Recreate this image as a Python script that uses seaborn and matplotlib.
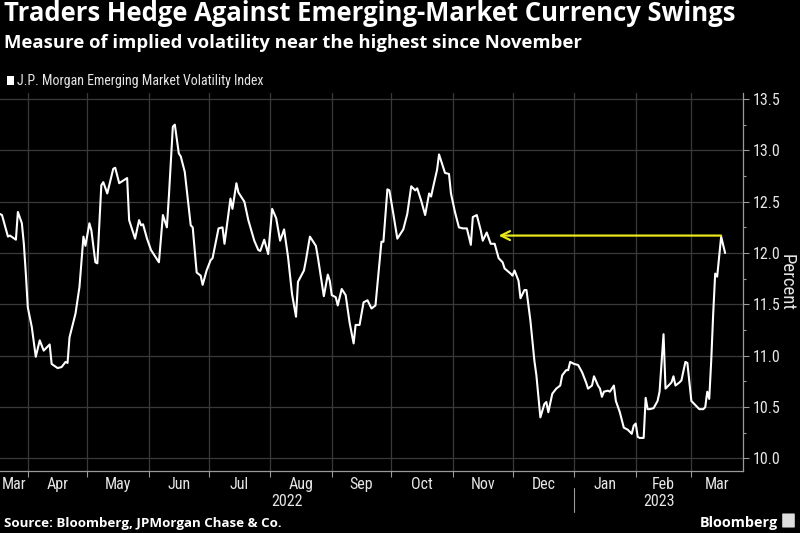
import matplotlib
matplotlib.use("Agg")
import matplotlib.pyplot as plt
import matplotlib.dates as mdates
import matplotlib.transforms as mtrans
from matplotlib import font_manager as fm
from matplotlib.patches import Rectangle, FancyBboxPatch
import seaborn as sns
import pandas as pd

# ---------------- text ----------------
title = "Traders Hedge Against Emerging-Market Currency Swings"
subtitle = "Measure of implied volatility near the highest since November"
series_name = "J.P. Morgan Emerging Market Volatility Index"
source = "Source: Bloomberg, JPMorgan Chase & Co."
brand = "Bloomberg"
y_label = "Percent"
y_ticks = [10.0, 10.5, 11.0, 11.5, 12.0, 12.5, 13.0, 13.5]
year_labels = ["2022", "2023"]

# ---------------- data ----------------
dates = [
    "2022-03-18", "2022-03-19", "2022-03-22", "2022-03-23", "2022-03-26", "2022-03-27", "2022-03-29", "2022-03-30",
    "2022-03-31", "2022-04-01", "2022-04-03", "2022-04-05", "2022-04-07", "2022-04-09", "2022-04-12", "2022-04-13",
    "2022-04-16", "2022-04-18", "2022-04-20", "2022-04-21", "2022-04-22", "2022-04-25", "2022-04-27", "2022-04-29",
    "2022-04-30", "2022-05-02", "2022-05-03", "2022-05-05", "2022-05-06", "2022-05-08", "2022-05-09", "2022-05-11",
    "2022-05-14", "2022-05-15", "2022-05-17", "2022-05-21", "2022-05-22", "2022-05-25", "2022-05-27", "2022-05-28",
    "2022-05-29", "2022-05-31", "2022-06-02", "2022-06-06", "2022-06-08", "2022-06-10", "2022-06-11", "2022-06-13",
    "2022-06-14", "2022-06-16", "2022-06-17", "2022-06-19", "2022-06-22", "2022-06-23", "2022-06-25", "2022-06-27",
    "2022-06-28", "2022-06-30", "2022-07-02", "2022-07-03", "2022-07-06", "2022-07-08", "2022-07-09", "2022-07-12",
    "2022-07-13", "2022-07-15", "2022-07-16", "2022-07-19", "2022-07-21", "2022-07-24", "2022-07-26", "2022-07-27",
    "2022-07-29", "2022-07-31", "2022-08-02", "2022-08-04", "2022-08-06", "2022-08-08", "2022-08-10", "2022-08-12",
    "2022-08-14", "2022-08-15", "2022-08-18", "2022-08-19", "2022-08-21", "2022-08-24", "2022-08-25", "2022-08-28",
    "2022-08-30", "2022-08-31", "2022-09-01", "2022-09-03", "2022-09-04", "2022-09-06", "2022-09-08", "2022-09-10",
    "2022-09-12", "2022-09-13", "2022-09-15", "2022-09-17", "2022-09-19", "2022-09-21", "2022-09-23", "2022-09-26",
    "2022-09-27", "2022-09-29", "2022-09-30", "2022-10-02", "2022-10-04", "2022-10-07", "2022-10-09", "2022-10-11",
    "2022-10-13", "2022-10-14", "2022-10-16", "2022-10-18", "2022-10-20", "2022-10-21", "2022-10-22", "2022-10-24",
    "2022-10-25", "2022-10-26", "2022-10-28", "2022-10-30", "2022-10-31", "2022-11-02", "2022-11-04", "2022-11-06",
    "2022-11-08", "2022-11-10", "2022-11-11", "2022-11-13", "2022-11-15", "2022-11-16", "2022-11-18", "2022-11-20",
    "2022-11-22", "2022-11-24", "2022-11-26", "2022-11-27", "2022-11-30", "2022-12-01", "2022-12-02", "2022-12-04",
    "2022-12-05", "2022-12-07", "2022-12-08", "2022-12-10", "2022-12-12", "2022-12-13", "2022-12-15", "2022-12-17",
    "2022-12-18", "2022-12-19", "2022-12-21", "2022-12-23", "2022-12-25", "2022-12-26", "2022-12-28", "2022-12-29",
    "2022-12-30", "2023-01-01", "2023-01-03", "2023-01-05", "2023-01-07", "2023-01-08", "2023-01-10", "2023-01-11",
    "2023-01-13", "2023-01-14", "2023-01-15", "2023-01-16", "2023-01-18", "2023-01-19", "2023-01-21", "2023-01-22",
    "2023-01-24", "2023-01-26", "2023-01-28", "2023-01-30", "2023-01-31", "2023-02-01", "2023-02-02", "2023-02-03",
    "2023-02-05", "2023-02-06", "2023-02-07", "2023-02-08", "2023-02-10", "2023-02-12", "2023-02-13", "2023-02-15",
    "2023-02-16", "2023-02-17", "2023-02-19", "2023-02-20", "2023-02-21", "2023-02-23", "2023-02-24", "2023-02-26",
    "2023-02-27", "2023-03-01", "2023-03-03", "2023-03-05", "2023-03-07", "2023-03-08", "2023-03-09", "2023-03-10",
    "2023-03-11", "2023-03-12", "2023-03-13", "2023-03-14", "2023-03-15", "2023-03-16", "2023-03-17", "2023-03-18",
]
values = [
    12.38, 12.37, 12.16, 12.17, 12.13, 12.40, 12.29, 12.09,
    11.80, 11.47, 11.28, 10.99, 11.15, 11.05, 11.11, 10.92,
    10.88, 10.89, 10.94, 10.93, 11.18, 11.41, 11.67, 12.16,
    12.07, 12.29, 12.22, 11.91, 11.90, 12.66, 12.69, 12.58,
    12.82, 12.83, 12.68, 12.73, 12.32, 12.14, 12.32, 12.27,
    12.28, 12.14, 12.03, 11.91, 12.37, 12.25, 12.55, 13.23,
    13.25, 12.97, 12.94, 12.79, 12.27, 12.25, 11.81, 11.78,
    11.69, 11.83, 11.93, 11.95, 12.24, 12.25, 12.09, 12.53,
    12.43, 12.68, 12.59, 12.50, 12.32, 12.12, 12.03, 12.02,
    12.13, 11.99, 12.43, 12.34, 12.12, 12.23, 11.96, 11.60,
    11.38, 11.72, 11.83, 11.93, 12.16, 12.07, 11.96, 11.58,
    11.79, 11.73, 11.59, 11.57, 11.49, 11.65, 11.59, 11.32,
    11.12, 11.30, 11.30, 11.52, 11.54, 11.46, 11.49, 12.11,
    12.11, 12.62, 12.61, 12.38, 12.14, 12.23, 12.38, 12.65,
    12.61, 12.63, 12.51, 12.37, 12.58, 12.55, 12.64, 12.81,
    12.96, 12.90, 12.78, 12.77, 12.58, 12.40, 12.25, 12.24,
    12.24, 12.08, 12.35, 12.37, 12.22, 12.12, 12.20, 12.09,
    12.09, 11.95, 11.91, 11.85, 11.80, 11.78, 11.83, 11.73,
    11.56, 11.64, 11.64, 11.34, 10.95, 10.81, 10.40, 10.53,
    10.55, 10.45, 10.63, 10.68, 10.71, 10.81, 10.86, 10.86,
    10.94, 10.92, 10.91, 10.84, 10.74, 10.68, 10.71, 10.80,
    10.71, 10.68, 10.60, 10.65, 10.66, 10.65, 10.71, 10.56,
    10.45, 10.30, 10.28, 10.24, 10.32, 10.34, 10.21, 10.20,
    10.20, 10.59, 10.48, 10.48, 10.49, 10.56, 10.65, 11.21,
    10.68, 10.70, 10.74, 10.80, 10.71, 10.74, 10.76, 10.94,
    10.93, 10.56, 10.52, 10.48, 10.48, 10.50, 10.65, 10.58,
    10.95, 11.41, 11.80, 11.77, 11.96, 12.16, 12.08, 12.00,
]

# annotation arrow (from latest high back to the same level in November)
arrow_start_date = "2023-03-16"
arrow_end_date = "2022-11-24"
arrow_level = 12.17

x_start, x_end = "2022-03-18", "2023-03-27"
y_min, y_max = 9.878, 13.558

# ---------------- style ----------------
BG = "black"
GRID = "#3a3a3a"
SPINE = "#9a9a9a"
TXT = "#e6e6e6"
YELLOW = "#e8e81c"

sns.set_theme(style="ticks")
names = {f.name for f in fm.fontManager.ttflist}
cond_dejavu = any(f.name == "DejaVu Sans" and f.stretch == "condensed" for f in fm.fontManager.ttflist)
narrow_family, narrow_stretch = None, "normal"
for cand in ["Liberation Sans Narrow", "Roboto Condensed", "Open Sans Condensed", "Noto Sans Condensed"]:
    if cand in names:
        narrow_family = cand
        break
if narrow_family is None:
    if cond_dejavu:
        narrow_family, narrow_stretch = "DejaVu Sans", "condensed"
    else:
        narrow_family = "Roboto" if "Roboto" in names else "DejaVu Sans"
bold_family = "Open Sans" if "Open Sans" in names else narrow_family
plt.rcParams["font.family"] = [narrow_family, "DejaVu Sans"]
plt.rcParams["font.stretch"] = narrow_stretch

W, H = 800, 533
fig = plt.figure(figsize=(W / 100, H / 100), dpi=100, facecolor=BG)


def fx(x):
    return x / W


def fy(y):
    return 1 - y / H


ax_left, ax_right, ax_top, ax_bottom = 0, 743, 93, 471
ax = fig.add_axes([fx(ax_left), fy(ax_bottom), fx(ax_right - ax_left), (ax_bottom - ax_top) / H])
ax.set_facecolor(BG)

df = pd.DataFrame({"date": pd.to_datetime(dates), "value": values})
sns.lineplot(data=df, x="date", y="value", ax=ax, color="white", linewidth=1.5, legend=False)

x0, x1 = pd.Timestamp(x_start), pd.Timestamp(x_end)
ax.set_xlim(x0, x1)
ax.set_ylim(y_min, y_max)
ax.set_xlabel("")
ax.set_ylabel("")

# month boundaries (minor ticks + vertical grid), month names at visible-span centres
month_starts = pd.date_range(x0.normalize() + pd.offsets.MonthBegin(1), x1, freq="MS")
bounds = [x0] + list(month_starts) + [x1]
centres, labels = [], []
for a, b in zip(bounds[:-1], bounds[1:]):
    centres.append(a + (b - a) / 2)
    labels.append(a.strftime("%b"))
ax.set_xticks(centres)
ax.set_xticklabels(labels)
ax.set_xticks(list(month_starts), minor=True)
ax.tick_params(axis="x", which="major", length=0, pad=4, labelsize=11.5, colors=TXT)
ax.tick_params(axis="x", which="minor", length=4, width=0.8, color=SPINE)
ax.xaxis.grid(True, which="minor", color=GRID, linewidth=0.9)
ax.xaxis.grid(False, which="major")

ax.yaxis.tick_right()
ax.set_yticks(y_ticks)
ax.set_yticklabels([f"{v:.1f}" for v in y_ticks])
ax.set_yticks([v + 0.25 for v in y_ticks[:-1]], minor=True)
ax.tick_params(axis="y", which="major", length=4, width=0.8, color=SPINE, pad=3, labelsize=11.5, colors=TXT)
ax.tick_params(axis="y", which="minor", length=2, width=0.8, color=SPINE)
ax.yaxis.grid(True, which="major", color=GRID, linewidth=0.9)
ax.set_axisbelow(True)

for s in ["left", "top"]:
    ax.spines[s].set_visible(False)
for s in ["right", "bottom"]:
    ax.spines[s].set_visible(True)
    ax.spines[s].set_color(SPINE)
    ax.spines[s].set_linewidth(0.9)

# year labels and separator
trans = mtrans.blended_transform_factory(ax.transData, ax.transAxes)
year_bounds = [x0, pd.Timestamp("2023-01-01"), x1]
for lab, a, b in zip(year_labels, year_bounds[:-1], year_bounds[1:]):
    ax.text(a + (b - a) / 2, -0.08, lab, transform=trans, ha="center", va="center",
            fontsize=11.5, color=TXT)
ax.plot([year_bounds[1], year_bounds[1]], [-(488 - ax_bottom) / (ax_bottom - ax_top), -(512 - ax_bottom) / (ax_bottom - ax_top)],
        transform=trans, color=SPINE, linewidth=0.8, clip_on=False)

# yellow arrow
ax.annotate("", xy=(pd.Timestamp(arrow_end_date), arrow_level),
            xytext=(pd.Timestamp(arrow_start_date), arrow_level),
            arrowprops=dict(arrowstyle="->", color=YELLOW, lw=1.6, mutation_scale=16,
                            shrinkA=0, shrinkB=0))

# percent label
fig.text(fx(787), fy(282), y_label, rotation=270, ha="center", va="center", fontsize=13.5, color=TXT)

# header texts
t_title = fig.text(fx(4), fy(21), title, ha="left", va="baseline", fontsize=16, color="white",
                   fontweight="bold", family=[bold_family, "DejaVu Sans"], stretch="normal")
t_sub = fig.text(fx(4), fy(48), subtitle, ha="left", va="baseline", fontsize=12, color="white",
                 fontweight="bold", family=[bold_family, "DejaVu Sans"], stretch="normal")
fig.patches.append(Rectangle((fx(7), fy(85)), fx(7), 9 / H, transform=fig.transFigure,
                             facecolor="white", edgecolor="none"))
t_leg = fig.text(fx(17), fy(85), series_name, ha="left", va="baseline", fontsize=10, color=TXT)
t_src = fig.text(fx(4), fy(527), source, ha="left", va="baseline", fontsize=10, color="white",
                 fontweight="bold", family=[bold_family, "DejaVu Sans"], stretch="normal")
t_brand = fig.text(fx(778), fy(527), brand, ha="right", va="baseline", fontsize=12, color="white",
                   fontweight="bold", family=[bold_family, "DejaVu Sans"], stretch="normal")
fig.patches.append(FancyBboxPatch((fx(783), fy(527)), fx(11), 13 / H, transform=fig.transFigure,
                                  boxstyle="round,pad=0.001", facecolor="#dddddd", edgecolor="none"))

# fit header/footer text widths to the reference
fig.canvas.draw()
r = fig.canvas.get_renderer()
for t, target in [(t_title, 733), (t_sub, 574), (t_leg, 246), (t_src, 278), (t_brand, 78)]:
    w = t.get_window_extent(renderer=r).width
    t.set_fontsize(t.get_fontsize() * target / w)

fig.savefig("out.png", dpi=100, facecolor=BG)
